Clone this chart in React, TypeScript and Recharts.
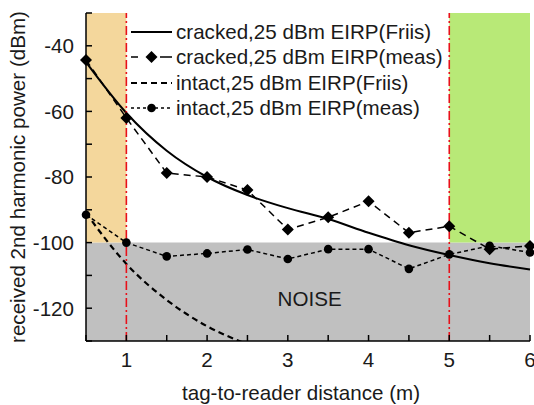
import { Label, Line, LineChart, ReferenceArea, ReferenceDot, ReferenceLine, XAxis, YAxis } from "recharts";

const distances = [0.5, 1, 1.5, 2, 2.5, 3, 3.5, 4, 4.5, 5, 5.5, 6];
const crackedFriis = [-45, -60.5, -72, -80, -85.5, -89.5, -92.8, -97, -100.8, -103.8, -106.3, -108.2];
const crackedMeas = [-44.3, -62, -78.8, -80, -84, -96, -92.3, -87.4, -97, -95, -102, -101];
const intactFriis = [-91, -106.5, -117.5, -125.5, -131, -135.5, null, null, null, null, null, null];
const intactMeas = [-91.5, -100, -104.2, -103.3, -102.1, -105, -102, -102, -108, -103.6, -101, -103];

const xTicks = [0.5, 1, 1.5, 2, 2.5, 3, 3.5, 4, 4.5, 5, 5.5, 6];
const yTicks = [-130, -120, -110, -100, -90, -80, -70, -60, -50, -40, -30];

const legendLabels = [
  "cracked,25 dBm EIRP(Friis)",
  "cracked,25 dBm EIRP(meas)",
  "intact,25 dBm EIRP(Friis)",
  "intact,25 dBm EIRP(meas)",
];

const data = distances.map((d, i) => ({
  d,
  crackedFriis: crackedFriis[i],
  crackedMeas: crackedMeas[i],
  intactFriis: intactFriis[i],
  intactMeas: intactMeas[i],
}));

const FONT = '"Liberation Sans", Arial, sans-serif';
const FS = 20.6;
const tickStyle = { fontSize: FS, fill: "#1a1a1a", fontFamily: FONT };

function Diamond(props: any) {
  const { cx, cy } = props;
  if (cx == null || cy == null) return <g />;
  return <polygon points={`${cx},${cy - 6} ${cx + 6},${cy} ${cx},${cy + 6} ${cx - 6},${cy}`} fill="#000" />;
}

function LegendSample({ kind }: { kind: number }) {
  return (
    <svg width={44} height={12} style={{ display: "block" }}>
      {kind === 0 && <line x1={1} y1={6} x2={42} y2={6} stroke="#000" strokeWidth={2} />}
      {kind === 1 && (
        <>
          <line x1={1} y1={6} x2={42} y2={6} stroke="#000" strokeWidth={1.5} strokeDasharray="7 8 0 14 7 0" />
          <polygon points="21.5,0 27.5,6 21.5,12 15.5,6" fill="#000" />
        </>
      )}
      {kind === 2 && <line x1={1} y1={6} x2={42} y2={6} stroke="#000" strokeWidth={2} strokeDasharray="6 4" />}
      {kind === 3 && (
        <>
          <line x1={1} y1={6} x2={42} y2={6} stroke="#000" strokeWidth={1.5} strokeDasharray="3 3" />
          <circle cx={21.5} cy={6} r={4.3} fill="#000" />
        </>
      )}
    </svg>
  );
}

export default function App() {
  return (
    <div style={{ position: "absolute", left: 0, top: 0, width: 534, height: 405, background: "#fff" }}>
      <LineChart
        width={534}
        height={405}
        data={data}
        margin={{ top: 13, right: 4, bottom: 0, left: 0 }}
        style={{ fontFamily: FONT }}
      >
        <XAxis
          dataKey="d"
          type="number"
          domain={[0.5, 6]}
          ticks={xTicks}
          tickFormatter={(v: number) => (Number.isInteger(v) ? String(v) : "")}
          height={64}
          tickSize={-6}
          tickMargin={17}
          stroke="#000"
          strokeWidth={1.5}
          tick={tickStyle}
          interval={0}
        >
          <Label value="tag-to-reader distance (m)" position="center" dx={-7} dy={20} style={{ fontSize: FS, fill: "#1a1a1a", fontFamily: FONT }} />
        </XAxis>
        <XAxis
          xAxisId="top"
          orientation="top"
          type="number"
          dataKey="d"
          domain={[0.5, 6]}
          ticks={xTicks}
          height={0}
          tickSize={-6}
          tick={false}
          stroke="#000"
          strokeWidth={1.5}
          interval={0}
        />
        <YAxis
          type="number"
          domain={[-130, -30]}
          ticks={yTicks}
          allowDataOverflow
          tickFormatter={(v: number) => (v % 20 === 0 ? String(v) : "")}
          width={86}
          tickSize={-6}
          tickMargin={18}
          stroke="#000"
          strokeWidth={1.5}
          tick={tickStyle}
          interval={0}
        >
          <Label
            value="received 2nd harmonic power (dBm)"
            angle={-90}
            position="center"
            dx={-25}
            style={{ fontSize: FS, fill: "#1a1a1a", fontFamily: FONT, textAnchor: "middle" }}
          />
        </YAxis>
        <YAxis
          yAxisId="right"
          orientation="right"
          type="number"
          domain={[-130, -30]}
          ticks={yTicks}
          width={0}
          tickSize={-6}
          tick={false}
          stroke="#000"
          strokeWidth={1.5}
          interval={0}
        />

        <ReferenceArea x1={0.5} x2={6} y1={-130} y2={-100} fill="#c0c0c0" fillOpacity={1} stroke="none" />
        <ReferenceArea x1={0.5} x2={1} y1={-100} y2={-30} fill="#f4d79c" fillOpacity={1} stroke="none" />
        <ReferenceArea x1={5} x2={6} y1={-100} y2={-30} fill="#b8e977" fillOpacity={1} stroke="none" />
        <ReferenceDot x={3.27} y={-117} r={0} fill="none" stroke="none">
          <Label value="NOISE" position="center" style={{ fontSize: FS, fill: "#1a1a1a", fontFamily: FONT }} />
        </ReferenceDot>

        <Line
          dataKey="intactFriis"
          type="monotone"
          stroke="#000"
          strokeWidth={2.2}
          strokeDasharray="6 4"
          dot={false}
          isAnimationActive={false}
        />
        <Line
          dataKey="intactMeas"
          type="linear"
          stroke="#000"
          strokeWidth={1.5}
          strokeDasharray="4 3"
          dot={{ r: 4.3, fill: "#000", stroke: "#000", strokeWidth: 0 }}
          isAnimationActive={false}
        />
        <Line
          dataKey="crackedMeas"
          type="linear"
          stroke="#000"
          strokeWidth={1.5}
          strokeDasharray="7 5"
          dot={Diamond}
          isAnimationActive={false}
        />
        <Line
          dataKey="crackedFriis"
          type="monotone"
          stroke="#000"
          strokeWidth={2}
          dot={false}
          isAnimationActive={false}
        />

        <ReferenceLine x={1} stroke="#e8101a" strokeWidth={1.6} strokeDasharray="9 3 2 3" />
        <ReferenceLine x={5} stroke="#e8101a" strokeWidth={1.6} strokeDasharray="9 3 2 3" />
      </LineChart>

      <div style={{ position: "absolute", left: 130, top: 19, fontFamily: FONT, fontSize: FS, color: "#1a1a1a" }}>
        {legendLabels.map((label, i) => (
          <div key={label} style={{ display: "flex", alignItems: "center", height: 25.5, whiteSpace: "nowrap" }}>
            <LegendSample kind={i} />
            <span style={{ marginLeft: 2 }}>{label}</span>
          </div>
        ))}
      </div>
    </div>
  );
}
